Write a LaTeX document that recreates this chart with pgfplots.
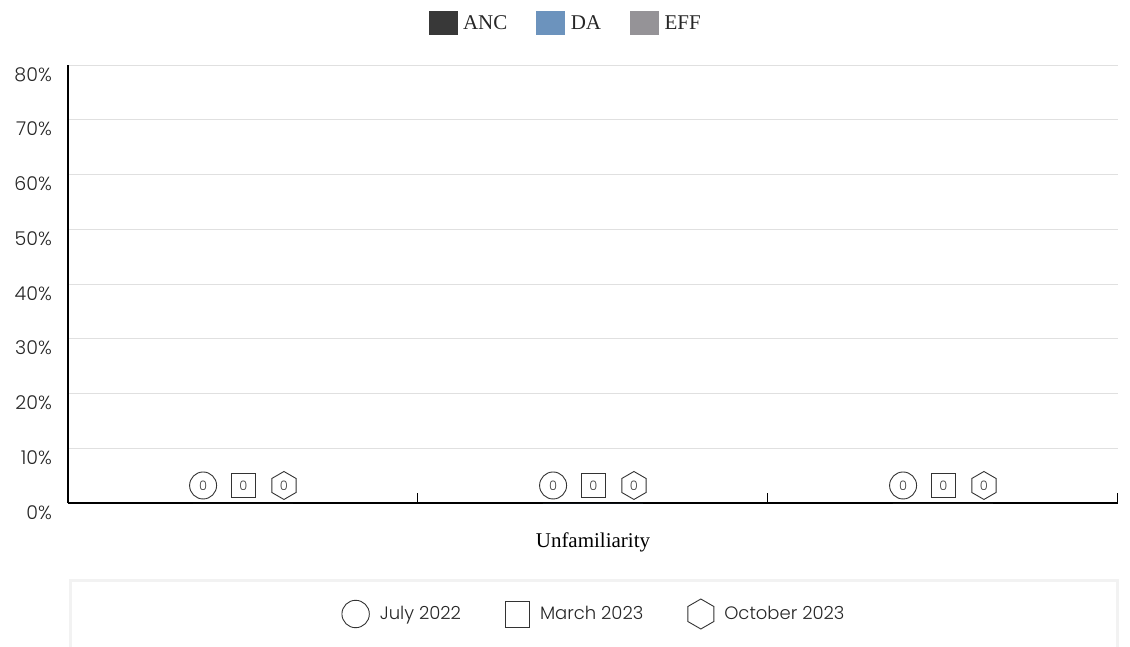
\documentclass[border=0pt]{standalone}
\usepackage{pgfplots}
\pgfplotsset{compat=1.18}
\usepackage{fontspec}
\setmainfont{Liberation Serif}
\newfontfamily\sansf{Poppins Light}
\definecolor{ancc}{HTML}{383838}
\definecolor{dac}{HTML}{6C93BD}
\definecolor{effc}{HTML}{959397}
\pgfdeclareplotmark{hexagon}{%
  \pgfpathmoveto{\pgfpointpolar{90}{\pgfplotmarksize}}%
  \pgfpathlineto{\pgfpointpolar{150}{\pgfplotmarksize}}%
  \pgfpathlineto{\pgfpointpolar{210}{\pgfplotmarksize}}%
  \pgfpathlineto{\pgfpointpolar{270}{\pgfplotmarksize}}%
  \pgfpathlineto{\pgfpointpolar{330}{\pgfplotmarksize}}%
  \pgfpathlineto{\pgfpointpolar{30}{\pgfplotmarksize}}%
  \pgfpathclose
  \pgfusepathqstroke
}
\begin{document}
\begin{tikzpicture}[x=1pt,y=1pt]
\useasboundingbox (0,0) rectangle (1130,646);
\draw[line width=3pt, color=black!5] (70,-20) rectangle (1117,66);
\begin{axis}[
  at={(68pt,143pt)}, anchor=south west,
  scale only axis, width=1050pt, height=438pt,
  xmin=-0.5, xmax=2.5, ymin=0, ymax=80,
  clip=false,
  axis x line*=bottom, axis y line*=left,
  axis line style={black, line width=1.3pt, -},
  xtick={0.5,1.5,2.5}, xticklabels={},
  xtick style={black, line width=1pt},
  major tick length=10pt, tick align=inside,
  ytick={0,10,20,30,40,50,60,70,80},
  yticklabels={0\%,10\%,20\%,30\%,40\%,50\%,60\%,70\%,80\%},
  ytick style={draw=none},
  ymajorgrids, grid style={black!12, line width=0.8pt},
  yticklabel style={font=\sansf\fontsize{19}{21}\selectfont, anchor=north east, inner sep=0pt, xshift=-16pt, yshift=-2pt, text=black!85},
  xlabel={Unfamiliarity},
  xlabel style={font=\fontsize{21}{24}\selectfont, at={(axis description cs:0.5,0)}, anchor=center, yshift=-39pt},
  legend columns=-1,
  legend style={at={(axis description cs:0.5,0)}, anchor=center, yshift=-111pt, draw=none, fill=none, inner sep=0pt,
    font=\sansf\fontsize{18}{20}\selectfont, text=black!85,
    nodes={inner sep=0pt},
    /tikz/every odd column/.append style={column sep=10pt},
    /tikz/every even column/.append style={column sep=44pt}},
  legend cell align=left,
]
\addplot[ybar, bar width=100pt, bar shift=0pt, fill=ancc, draw=none, forget plot] coordinates {(0,0)};
\addplot[ybar, bar width=100pt, bar shift=0pt, fill=dac, draw=none, forget plot] coordinates {(1,0)};
\addplot[ybar, bar width=100pt, bar shift=0pt, fill=effc, draw=none, forget plot] coordinates {(2,0)};

\addplot[only marks, mark=o, mark size=13.5pt, mark options={line width=0.9pt, draw=black!80},
  nodes near coords, point meta=explicit symbolic, nodes near coords align=center,
  every node near coord/.append style={font=\sansf\fontsize{13}{14}\selectfont, text=black!75},
  legend image code/.code={\path[draw=none,fill=none] (0pt,-15pt) rectangle (28pt,15pt); \draw[black!80, line width=0.9pt, fill=none] (14pt,0pt) circle (13.7pt);}]
  coordinates {(-0.114,3.2)[0] (0.886,3.2)[0] (1.886,3.2)[0]};
\addlegendentry{July 2022}

\addplot[only marks, mark=square, mark size=12.3pt, mark options={line width=0.9pt, draw=black!80},
  nodes near coords, point meta=explicit symbolic, nodes near coords align=center,
  every node near coord/.append style={font=\sansf\fontsize{13}{14}\selectfont, text=black!75},
  legend image code/.code={\path[draw=none,fill=none] (0pt,-15pt) rectangle (25pt,15pt); \draw[black!80, line width=0.9pt, fill=none] (0.5pt,-13pt) rectangle (24.5pt,13pt);}]
  coordinates {(0.001,3.2)[0] (1.001,3.2)[0] (2.001,3.2)[0]};
\addlegendentry{March 2023}

\addplot[only marks, mark=hexagon, mark size=14pt, mark options={line width=0.9pt, draw=black!80},
  nodes near coords, point meta=explicit symbolic, nodes near coords align=center,
  every node near coord/.append style={font=\sansf\fontsize{13}{14}\selectfont, text=black!75},
  legend image code/.code={\path[draw=none,fill=none] (0pt,-15pt) rectangle (26pt,15pt); \draw[black!80, line width=0.9pt, fill=none] (13pt,15pt) -- (0pt,7.5pt) -- (0pt,-7.5pt) -- (13pt,-15pt) -- (26pt,-7.5pt) -- (26pt,7.5pt) -- cycle;}]
  coordinates {(0.117,3.2)[0] (1.117,3.2)[0] (2.117,3.2)[0]};
\addlegendentry{October 2023}
\end{axis}

\begin{axis}[
  at={(68pt,143pt)}, anchor=south west,
  scale only axis, width=1050pt, height=438pt,
  hide axis, xmin=0, xmax=1, ymin=0, ymax=1,
  legend columns=-1,
  legend style={at={(axis description cs:0.473,1)}, anchor=center, yshift=42pt, draw=none, fill=none, inner sep=0pt,
    font=\fontsize{21}{24}\selectfont, text=black!85,
    nodes={inner sep=0pt},
    /tikz/every odd column/.append style={column sep=6pt},
    /tikz/every even column/.append style={column sep=29pt}},
  legend cell align=left,
]
\addlegendimage{legend image code/.code={\fill[ancc] (0pt,-11.5pt) rectangle (28pt,11.5pt);}}
\addlegendentry{ANC}
\addlegendimage{legend image code/.code={\fill[dac] (0pt,-11.5pt) rectangle (28pt,11.5pt);}}
\addlegendentry{DA}
\addlegendimage{legend image code/.code={\fill[effc] (0pt,-11.5pt) rectangle (28pt,11.5pt);}}
\addlegendentry{EFF}
\end{axis}
\end{tikzpicture}
\end{document}
